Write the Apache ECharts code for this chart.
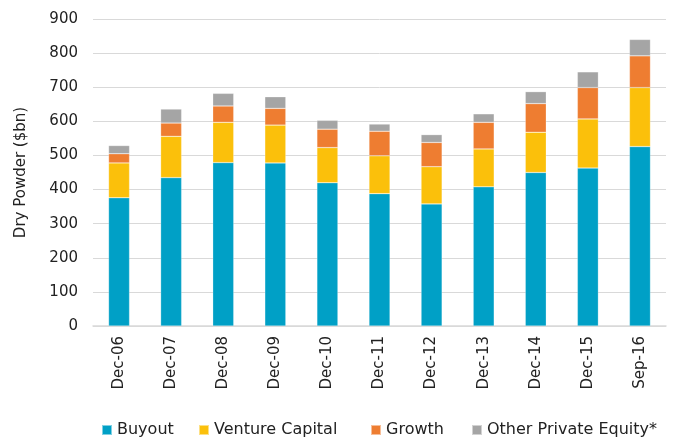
<!DOCTYPE html>
<html><head><meta charset="utf-8">
<script src="https://cdn.jsdelivr.net/npm/echarts@6/dist/echarts.min.js"></script>
<style>html,body{margin:0;padding:0;background:#fff}#c{width:676px;height:441px}</style>
</head><body><div id="c"></div>
<script>
const categories = ['Dec-06','Dec-07','Dec-08','Dec-09','Dec-10','Dec-11','Dec-12','Dec-13','Dec-14','Dec-15','Sep-16'];
const buyout = [376,435,479,478,420,388,358,408,450,463,526];
const ventureCapital = [102,121,118,111,103,111,109,111,118,144,173];
const growth = [27,39,48,49,54,72,71,78,84,92,93];
const otherPE = [24,41,37,34,26,21,23,25,35,46,48];
const seriesNames = ['Buyout','Venture Capital','Growth','Other Private Equity*'];
const colors = ['#00A0C6','#FBC00B','#EE7D31','#A5A5A5'];
const FONT = '"DejaVu Sans", sans-serif';
const legendLefts = [96, 193, 365, 466];
const chart = echarts.init(document.getElementById('c'));
const mk = (name, data, i) => ({
  name, type:'bar', stack:'total', data, barWidth:21,
  itemStyle:{color:colors[i], borderColor:'rgba(255,255,255,0.5)', borderWidth:0.5},
  emphasis:{disabled:true}
});
chart.setOption({
  animation:false,
  textStyle:{fontFamily:FONT},
  grid:{left:93, right:10, top:19, bottom:115},
  legend: seriesNames.map((n,i) => ({top:417, left:legendLefts[i], itemWidth:10, itemHeight:10, itemGap:0, icon:'rect',
    textStyle:{fontSize:16, color:'#222', fontFamily:FONT}, data:[n]})),
  xAxis:{type:'category', data:categories,
    axisLine:{lineStyle:{color:'#D9D9D9', width:1.5}}, axisTick:{show:false},
    axisLabel:{rotate:90, fontSize:15, color:'#222', margin:10, fontFamily:FONT}},
  yAxis:{type:'value', min:0, max:900, interval:100,
    name:'Dry Powder ($bn)', nameLocation:'middle', nameGap:64, nameRotate:90,
    nameTextStyle:{fontSize:15, color:'#222', fontFamily:FONT},
    axisLine:{show:false}, axisTick:{show:false},
    axisLabel:{fontSize:15, color:'#222', margin:15, fontFamily:FONT},
    splitLine:{lineStyle:{color:'#D9D9D9', width:1}}},
  series:[mk(seriesNames[0],buyout,0), mk(seriesNames[1],ventureCapital,1), mk(seriesNames[2],growth,2), mk(seriesNames[3],otherPE,3)]
});
</script></body></html>
